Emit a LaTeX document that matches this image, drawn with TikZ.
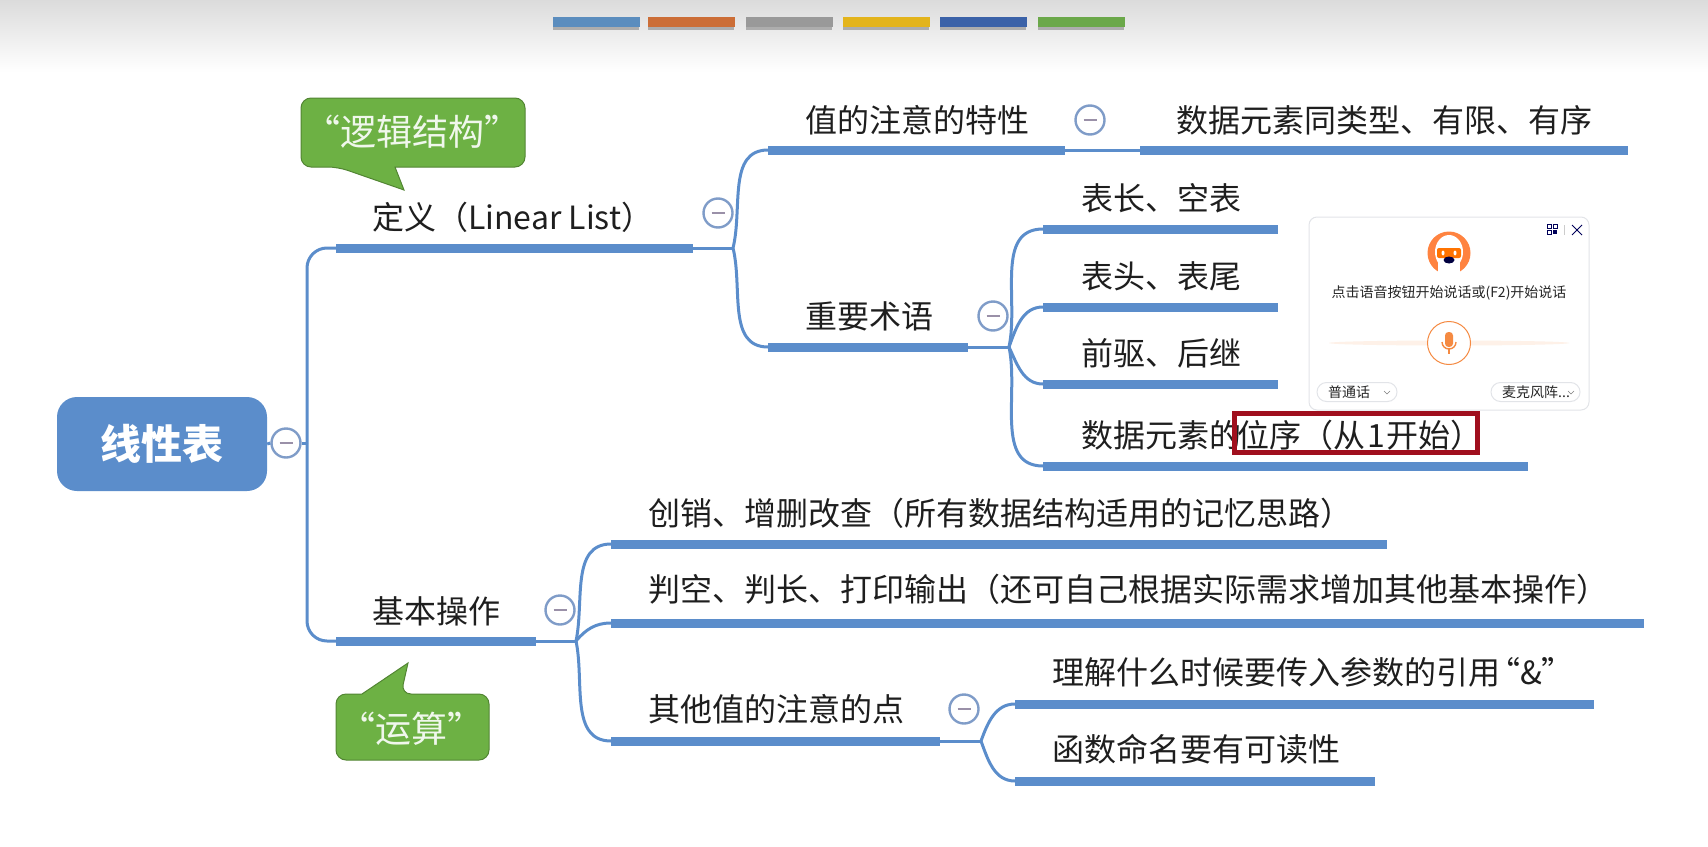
\documentclass[tikz,border=0pt]{standalone}
\usepackage{fontspec}
\setmainfont{Noto Sans CJK SC}
\usetikzlibrary{calc,positioning}

\definecolor{mapblue}{HTML}{5B8DCB}
\definecolor{foldblue}{HTML}{7F9CC8}
\definecolor{foldminus}{HTML}{9A90A8}
\definecolor{calloutgreen}{HTML}{6DB144}
\definecolor{boxred}{HTML}{A00F1E}
\definecolor{micorange}{HTML}{F58A42}
\definecolor{popupgrey}{HTML}{E2E4E8}
\definecolor{inktext}{HTML}{1E1E1E}

\tikzset{
  topic/.style={anchor=west, inner sep=0pt, text=inktext, font=\fontsize{32}{32}\selectfont},
  bar/.style={line width=9pt, color=mapblue},
  link/.style={line width=3pt, color=mapblue},
  foldmark/.style={circle, draw=foldblue, line width=2.4pt, fill=white, minimum size=29pt, inner sep=0pt,
    path picture={\draw[foldminus, line width=2pt] ($(path picture bounding box.center)+(-6.5,0)$) -- ($(path picture bounding box.center)+(6.5,0)$);}},
  callout/.style={fill=calloutgreen, draw=calloutgreen!75!black, line width=1pt},
  callouttext/.style={inner sep=0pt, text=white!90!calloutgreen, font=\fontsize{36}{36}\selectfont},
  swatch/.style={minimum width=87pt, minimum height=10pt, inner sep=0pt},
  pill/.style={draw=popupgrey, line width=1pt, rounded corners=9.5pt, minimum height=19pt, inner sep=0pt, fill=white},
  popuptext/.style={inner sep=0pt, text=black!85, font=\fontsize{14}{14}\selectfont},
}

\begin{document}
\begin{tikzpicture}[x=1pt, y=-1pt]
\useasboundingbox (0,0) rectangle (1708,846);
\shade[top color=black!14, bottom color=white] (0,0) rectangle (1708,72);

\foreach \name/\xpos/\barcolor in {one/596/5B8DBE, two/691/CC6E37, three/789/999999, four/886/E3B41C, five/983/3B62A8, six/1081/6BA84A} {
  \definecolor{swatchcolor}{HTML}{\barcolor}
  \fill[black!32] (\xpos-43,23) rectangle (\xpos+43,30);
  \node[swatch, fill=swatchcolor] (swatch\name) at (\xpos,22) {};
}

\node[fill=mapblue, rounded corners=20pt, minimum width=210pt, minimum height=94pt, inner sep=0pt,
  text=white, font=\fontsize{41}{41}\selectfont\bfseries] (rootbox) at (162,444) {线性表};
\node[foldmark] (rootfold) at (286,443) {};
\coordinate (rootjoin) at (307,443);
\draw[link] (rootbox.east) -- (rootfold.west);
\draw[link] (rootfold.east) -- (rootjoin);

\coordinate (defleft) at (336,248);
\coordinate (defright) at (693,248);
\coordinate (opleft) at (336,641);
\coordinate (opright) at (536,641);
\draw[link, rounded corners=20pt] (rootjoin) |- (defleft);
\draw[link, rounded corners=20pt] (rootjoin) |- (opleft);
\draw[bar] (defleft) -- (defright);
\draw[bar] (opleft) -- (opright);
\node[topic] (deflabel) at ($(defleft) + (36,-31)$) {定义（Linear List）};
\node[topic] (oplabel) at ($(opleft) + (36,-30)$) {基本操作};

\coordinate (defjoin) at (733,248);
\coordinate (traitleft) at (768,150);
\coordinate (traitright) at (1065,150);
\coordinate (termleft) at (768,347);
\coordinate (termright) at (968,347);
\draw[link] (defright) -- (defjoin);
\draw[link] (defjoin) to[out=76, in=180] (traitleft);
\draw[link] (defjoin) to[out=-76, in=180] (termleft);
\draw[bar] (traitleft) -- (traitright);
\draw[bar] (termleft) -- (termright);
\node[foldmark] (deffold) at (718,213) {};
\node[topic] (traitlabel) at ($(traitleft) + (37,-30)$) {值的注意的特性};
\node[topic] (termlabel) at ($(termleft) + (37,-31)$) {重要术语};

\coordinate (sameleft) at (1140,150);
\coordinate (sameright) at (1628,150);
\draw[link] (traitright) -- (sameleft);
\draw[bar] (sameleft) -- (sameright);
\node[foldmark] (traitfold) at (1090,120) {};
\node[topic] (samelabel) at ($(sameleft) + (36,-30)$) {数据元素同类型、有限、有序};

\coordinate (termjoin) at (1009,347);
\draw[link] (termright) -- (termjoin);
\node[foldmark] (termfold) at (993,316) {};

\coordinate (lenleft) at (1043,229);
\coordinate (lenright) at (1278,229);
\coordinate (headleft) at (1043,307);
\coordinate (headright) at (1278,307);
\coordinate (prevleft) at (1043,384);
\coordinate (prevright) at (1278,384);
\coordinate (orderleft) at (1043,466);
\coordinate (orderright) at (1528,466);
\draw[link] (termjoin) to[out=78, in=180] (lenleft);
\draw[link] (termjoin) to[out=70, in=180] (headleft);
\draw[link] (termjoin) to[out=-65, in=180] (prevleft);
\draw[link] (termjoin) to[out=-78, in=180] (orderleft);
\draw[bar] (lenleft) -- (lenright);
\draw[bar] (headleft) -- (headright);
\draw[bar] (prevleft) -- (prevright);
\draw[bar] (orderleft) -- (orderright);
\node[topic] (lenlabel) at ($(lenleft) + (38,-31)$) {表长、空表};
\node[topic] (headlabel) at ($(headleft) + (38,-31)$) {表头、表尾};
\node[topic] (prevlabel) at ($(prevleft) + (38,-31)$) {前驱、后继};
\node[topic] (orderlabel) at ($(orderleft) + (38,-31)$) {数据元素的};
\node[draw=boxred, line width=5pt, minimum width=243pt, minimum height=39pt, inner sep=0pt] (orderbox) at (1356,433) {};
\node[topic] (orderword) at ($(orderbox.west) + (5,2)$) {位序（从\kern2pt 1\kern2pt 开始）};

\coordinate (opjoin) at (576,641);
\draw[link] (opright) -- (opjoin);
\node[foldmark] (opfold) at (560,610) {};

\coordinate (createleft) at (611,544);
\coordinate (createright) at (1387,544);
\coordinate (emptyleft) at (611,623);
\coordinate (emptyright) at (1644,623);
\coordinate (otherleft) at (611,741);
\coordinate (otherright) at (940,741);
\draw[link] (opjoin) to[out=78, in=180] (createleft);
\draw[link] (opjoin) to[out=50, in=180] (emptyleft);
\draw[link] (opjoin) to[out=-78, in=180] (otherleft);
\draw[bar] (createleft) -- (createright);
\draw[bar] (emptyleft) -- (emptyright);
\draw[bar] (otherleft) -- (otherright);
\node[topic] (createlabel) at ($(createleft) + (37,-31)$) {创销、增删改查（所有数据结构适用的记忆思路）};
\node[topic] (emptylabel) at ($(emptyleft) + (37,-34)$) {判空、判长、打印输出（还可自己根据实际需求增加其他基本操作）};
\node[topic] (otherlabel) at ($(otherleft) + (37,-32)$) {其他值的注意的点};

\coordinate (otherjoin) at (981,741);
\coordinate (refleft) at (1015,704);
\coordinate (refright) at (1594,704);
\coordinate (nameleft) at (1015,781);
\coordinate (nameright) at (1375,781);
\draw[link] (otherright) -- (otherjoin);
\draw[link] (otherjoin) to[out=70, in=180] (refleft);
\draw[link] (otherjoin) to[out=-70, in=180] (nameleft);
\draw[bar] (refleft) -- (refright);
\draw[bar] (nameleft) -- (nameright);
\node[foldmark] (otherfold) at (964,709) {};
\node[topic] (reflabel) at ($(refleft) + (37,-32)$) {理解什么时候要传入参数的引用\kern-12pt“\&”};
\node[topic] (namelabel) at ($(nameleft) + (37,-32)$) {函数命名要有可读性};

\draw[callout, rounded corners=10pt] (395,167) -- (525,167) -- (525,98) -- (301,98) -- (301,167) -- (338,167) [sharp corners] -- (404,190) -- cycle;
\node[callouttext] (logiclabel) at (412,132) {“逻辑结构”};

\draw[callout, rounded corners=10pt] (362,694) -- (336,694) -- (336,760) -- (489,760) -- (489,694) -- (401,694) [sharp corners] -- (408,663) -- cycle;
\node[callouttext] (calclabel) at (411,729) {“运算”};

\draw[draw=popupgrey, line width=1pt, fill=white, rounded corners=8pt] (1309,217) rectangle (1589,410);
\coordinate (avatar) at (1449,253);
\fill[orange!70!red!75] (avatar) circle [radius=21.5];
\fill[white] ($(avatar) + (0,-1)$) ellipse [x radius=14, y radius=17];
\fill[white] ($(avatar) + (-11,8)$) rectangle ($(avatar) + (11,22)$);
\fill[orange!90!red, rounded corners=2pt] ($(avatar) + (-12,-5)$) rectangle ($(avatar) + (12,5)$);
\fill[white] ($(avatar) + (-6,0)$) ellipse [x radius=1.5, y radius=2.5];
\fill[white] ($(avatar) + (6,0)$) ellipse [x radius=1.5, y radius=2.5];
\fill[black!75!blue] ($(avatar) + (0,7)$) ellipse [x radius=5.5, y radius=3.5];
\node[popuptext] (hintlabel) at (1449,293) {点击语音按钮开始说话或(F2)开始说话};

\coordinate (mic) at (1449,343);
\fill[micorange!12] (mic) ellipse [x radius=120, y radius=2.5];
\node[circle, draw=micorange, line width=1pt, fill=white, minimum size=43pt, inner sep=0pt] (micbutton) at (mic) {};
\fill[micorange, rounded corners=3.5pt] ($(mic) + (-4,-11)$) rectangle ($(mic) + (4,4)$);
\draw[micorange, line width=1.4pt] ($(mic) + (-7,-1)$) arc [start angle=180, end angle=0, radius=7];
\draw[micorange, line width=1.4pt] ($(mic) + (0,6)$) -- ($(mic) + (0,11)$);

\node[pill, minimum width=80pt] (dialectpill) at (1357,392) {};
\node[popuptext, anchor=west] (dialectlabel) at (1328,392) {普通话};
\draw[gray, line width=0.6pt] (1384,391) -- (1387,394) -- (1390,391);
\node[pill, minimum width=89pt] (devicepill) at (1535.5,392) {};
\node[popuptext, anchor=west] (devicelabel) at (1502,392) {麦克风阵...};
\draw[gray, line width=0.6pt] (1568,391) -- (1571,394) -- (1574,391);

\coordinate (qrcode) at (1552,229);
\draw[black!65!blue, line width=1pt] ($(qrcode) + (-5,-5)$) rectangle ($(qrcode) + (-1,-1)$);
\draw[black!65!blue, line width=1pt] ($(qrcode) + (1,-5)$) rectangle ($(qrcode) + (5,-1)$);
\draw[black!65!blue, line width=1pt] ($(qrcode) + (-5,1)$) rectangle ($(qrcode) + (-1,5)$);
\fill[black!65!blue] ($(qrcode) + (1,1)$) rectangle ($(qrcode) + (5,5)$);
\draw[gray!40, line width=0.6pt] (1564,225) -- (1564,235);
\coordinate (closemark) at (1577,230);
\draw[black!65!blue, line width=1pt] ($(closemark) + (-5,-5)$) -- ($(closemark) + (5,5)$);
\draw[black!65!blue, line width=1pt] ($(closemark) + (-5,5)$) -- ($(closemark) + (5,-5)$);
\end{tikzpicture}
\end{document}
